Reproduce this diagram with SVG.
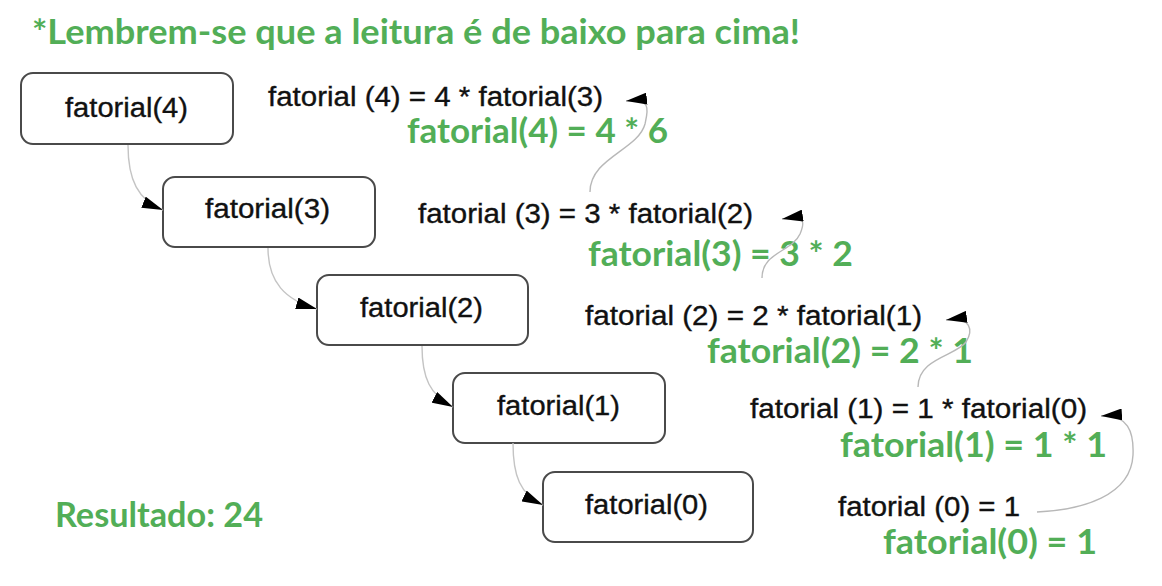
<svg xmlns="http://www.w3.org/2000/svg" width="1162" height="586" viewBox="0 0 1162 586">
<style>
.bg{fill:#ffffff}
.box{fill:#ffffff;stroke:#4a4a4a;stroke-width:2}
.lbl{font-family:"Liberation Sans",Arial,sans-serif;font-size:27px;fill:#111111;stroke:#111111;stroke-width:0.35}
.eq{font-family:"Liberation Sans",Arial,sans-serif;font-size:27px;fill:#111111;stroke:#111111;stroke-width:0.35}
.grn{font-family:Lato,"Open Sans",sans-serif;font-weight:bold;font-size:34px;fill:#52ae57}
.call{fill:none;stroke:#c4c4c4;stroke-width:1.4}
.ret{fill:none;stroke:#b8b8b8;stroke-width:1.4}
</style>
<defs>
<marker id="ah" markerUnits="userSpaceOnUse" viewBox="0 0 21 12" markerWidth="21" markerHeight="12" refX="21" refY="6" orient="auto">
<path d="M0,0 L21,6 L0,12 z" fill="#000000"/>
</marker>
</defs>
<rect class="bg" x="0" y="0" width="1162" height="586"/>

<text id="title" class="grn" x="32" y="44" textLength="768" lengthAdjust="spacingAndGlyphs">*Lembrem-se que a leitura é de baixo para cima!</text>

<g id="node-f4">
<rect class="box" x="21" y="73" width="212" height="71" rx="12"/>
<text class="lbl" x="65" y="117" textLength="123" lengthAdjust="spacingAndGlyphs">fatorial(4)</text>
</g>
<g id="node-f3">
<rect class="box" x="163" y="177" width="212" height="70" rx="12"/>
<text class="lbl" x="205" y="218" textLength="125" lengthAdjust="spacingAndGlyphs">fatorial(3)</text>
</g>
<g id="node-f2">
<rect class="box" x="317" y="275" width="211" height="70" rx="12"/>
<text class="lbl" x="360" y="317" textLength="123" lengthAdjust="spacingAndGlyphs">fatorial(2)</text>
</g>
<g id="node-f1">
<rect class="box" x="453" y="373" width="212" height="70" rx="12"/>
<text class="lbl" x="497" y="415" textLength="123" lengthAdjust="spacingAndGlyphs">fatorial(1)</text>
</g>
<g id="node-f0">
<rect class="box" x="543" y="472" width="210" height="70" rx="12"/>
<text class="lbl" x="585" y="514" textLength="123" lengthAdjust="spacingAndGlyphs">fatorial(0)</text>
</g>

<g id="equations">
<text class="eq" x="268" y="106" textLength="335" lengthAdjust="spacingAndGlyphs">fatorial (4) = 4 * fatorial(3)</text>
<text class="eq" x="418" y="223" textLength="335" lengthAdjust="spacingAndGlyphs">fatorial (3) = 3 * fatorial(2)</text>
<text class="eq" x="585" y="325" textLength="337" lengthAdjust="spacingAndGlyphs">fatorial (2) = 2 * fatorial(1)</text>
<text class="eq" x="750" y="418" textLength="337" lengthAdjust="spacingAndGlyphs">fatorial (1) = 1 * fatorial(0)</text>
<text class="eq" x="838" y="516" textLength="182" lengthAdjust="spacingAndGlyphs">fatorial (0) = 1</text>
</g>

<g id="results">
<text class="grn" x="407" y="143" textLength="261" lengthAdjust="spacingAndGlyphs">fatorial(4) = 4 * 6</text>
<text class="grn" x="588" y="266" textLength="265" lengthAdjust="spacingAndGlyphs">fatorial(3) = 3 * 2</text>
<text class="grn" x="707" y="363" textLength="266" lengthAdjust="spacingAndGlyphs">fatorial(2) = 2 * 1</text>
<text class="grn" x="840" y="457" textLength="267" lengthAdjust="spacingAndGlyphs">fatorial(1) = 1 * 1</text>
<text class="grn" x="883" y="554" textLength="214" lengthAdjust="spacingAndGlyphs">fatorial(0) = 1</text>
<text class="grn" x="55" y="527" textLength="208" lengthAdjust="spacingAndGlyphs">Resultado: 24</text>
</g>

<g id="connectors">
<path class="call" d="M128,145 C128,180 138,200 163,210" marker-end="url(#ah)"/>
<path class="call" d="M268,248 C268,282 285,300 317,309" marker-end="url(#ah)"/>
<path class="call" d="M422,346 C422,378 430,395 453,407" marker-end="url(#ah)"/>
<path class="call" d="M513,443 C513,476 520,494 543,505" marker-end="url(#ah)"/>
<path class="ret" d="M590,192 C590,158 638,150 645,124 C648,110 652,98 626,101" marker-end="url(#ah)"/>
<path class="ret" d="M762,278 C762,252 792,252 800,234 C805,222 806,215 782,219" marker-end="url(#ah)"/>
<path class="ret" d="M918,387 C918,358 956,356 966,342 C973,331 972,316 946,320" marker-end="url(#ah)"/>
<path class="ret" d="M1037,512 C1082,510 1131,496 1133,455 C1134,432 1128,414 1101,416" marker-end="url(#ah)"/>
</g>
</svg>
